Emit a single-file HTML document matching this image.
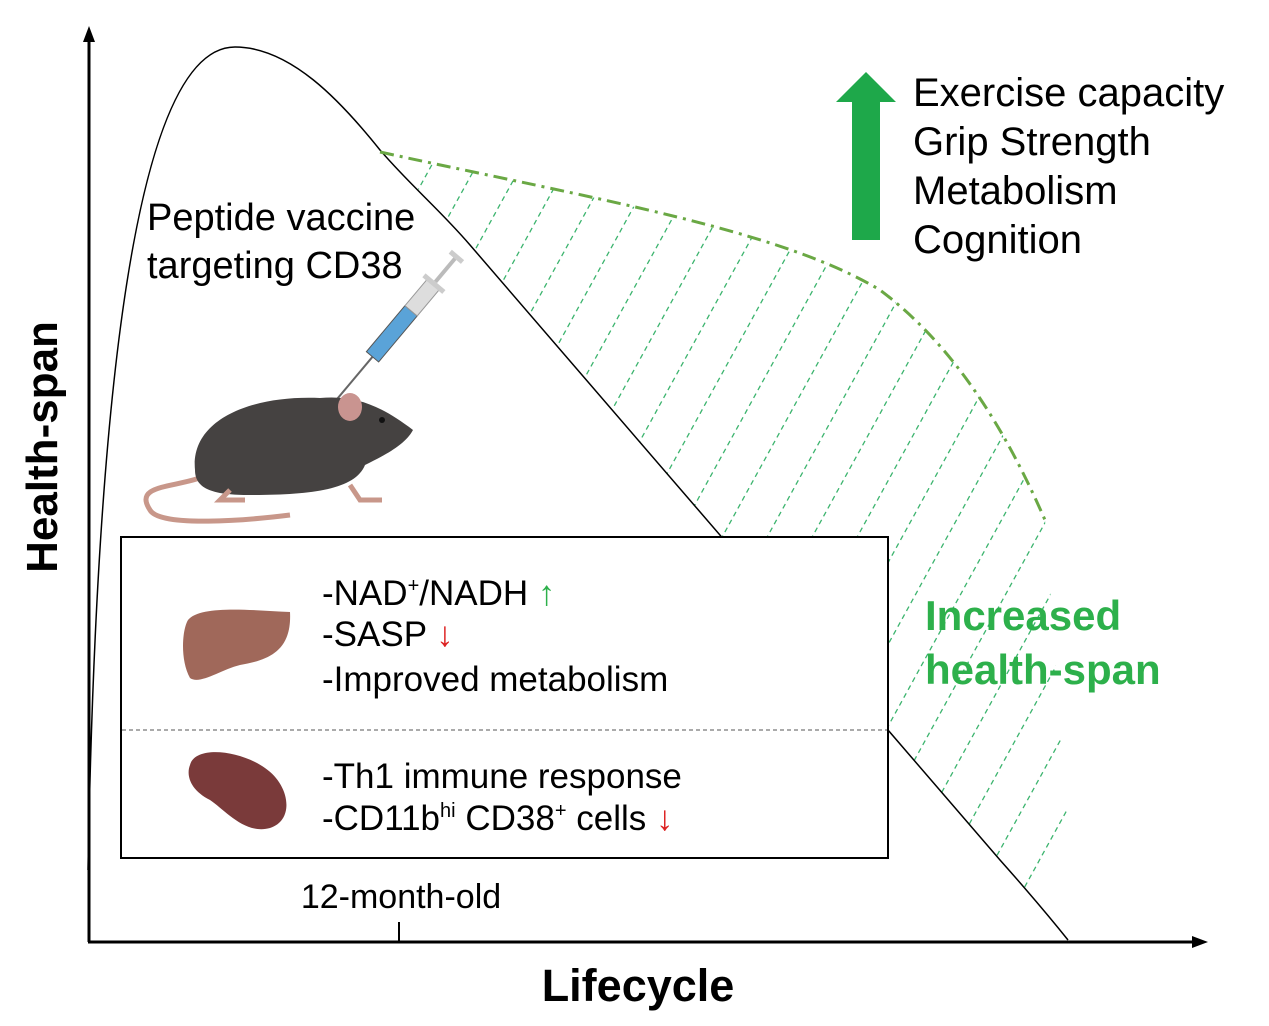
<!DOCTYPE html>
<html><head><style>body{margin:0;background:#fff}svg{display:block}text{font-family:"Liberation Sans",sans-serif}</style></head><body>
<svg width="1269" height="1026" viewBox="0 0 1269 1026">
<defs>
<clipPath id="c"><path d="M380,152 C600,200 780,230 880,290 C960,350 1010,440 1045,520 L1070,860 L1070,900 L1035,900 L1000,860 L470,245 C430,200 400,170 380,152 Z"/></clipPath>
</defs>
<!-- axes -->
<line x1="89" y1="942" x2="89" y2="38" stroke="#000" stroke-width="3"/>
<polygon points="89,26 83,42 95,42" fill="#000"/>
<line x1="88" y1="942" x2="1195" y2="942" stroke="#000" stroke-width="3"/>
<polygon points="1208,942 1192,936 1192,948" fill="#000"/>
<line x1="399" y1="922" x2="399" y2="942" stroke="#000" stroke-width="2"/>
<text x="401" y="908" font-size="34" text-anchor="middle">12-month-old</text>
<text x="638" y="1001" font-size="45" font-weight="bold" text-anchor="middle">Lifecycle</text>
<text transform="translate(57,447) rotate(-90)" font-size="44" font-weight="bold" text-anchor="middle">Health-span</text>
<!-- hatch -->
<g clip-path="url(#c)" stroke="#3cb46e" stroke-width="1.3" stroke-dasharray="5,4">
<line x1="0" y1="950" x2="550" y2="-50"/><line x1="45" y1="950" x2="595" y2="-50"/><line x1="90" y1="950" x2="640" y2="-50"/><line x1="135" y1="950" x2="685" y2="-50"/><line x1="180" y1="950" x2="730" y2="-50"/><line x1="225" y1="950" x2="775" y2="-50"/><line x1="270" y1="950" x2="820" y2="-50"/><line x1="315" y1="950" x2="865" y2="-50"/><line x1="360" y1="950" x2="910" y2="-50"/><line x1="405" y1="950" x2="955" y2="-50"/><line x1="450" y1="950" x2="1000" y2="-50"/><line x1="495" y1="950" x2="1045" y2="-50"/><line x1="540" y1="950" x2="1090" y2="-50"/><line x1="585" y1="950" x2="1135" y2="-50"/><line x1="630" y1="950" x2="1180" y2="-50"/><line x1="675" y1="950" x2="1225" y2="-50"/><line x1="720" y1="950" x2="1270" y2="-50"/><line x1="765" y1="950" x2="1315" y2="-50"/><line x1="810" y1="950" x2="1360" y2="-50"/><line x1="855" y1="950" x2="1405" y2="-50"/><line x1="900" y1="950" x2="1450" y2="-50"/><line x1="945" y1="950" x2="1495" y2="-50"/><line x1="990" y1="950" x2="1540" y2="-50"/>
</g>
<!-- curves -->
<path d="M88,870 C98,300 150,47 235,47 C290,47 340,100 380,150 C410,185 440,210 470,245 L1000,860 Q1040,905 1068,940" fill="none" stroke="#000" stroke-width="1.5"/>
<path d="M380,152 C600,200 780,230 880,290 C960,350 1010,440 1045,520" fill="none" stroke="#6aa844" stroke-width="3" stroke-dasharray="14,6,3,6"/>
<!-- arrow -->
<polygon points="866,72 896,102 880,102 880,240 852,240 852,102 836,102" fill="#1ea84a"/>
<g font-size="40"><text x="913" y="106">Exercise capacity</text><text x="913" y="155">Grip Strength</text><text x="913" y="204">Metabolism</text><text x="913" y="253">Cognition</text></g>
<g font-size="42" font-weight="bold" fill="#2db04b"><text x="925" y="630">Increased</text><text x="925" y="684">health-span</text></g>
<g font-size="38"><text x="147" y="230">Peptide vaccine</text><text x="147" y="278">targeting CD38</text></g>
<!-- syringe -->
<g transform="translate(395,330) rotate(-50)">
<line x1="-90" y1="0" x2="-35" y2="0" stroke="#666" stroke-width="2"/>
<rect x="-35" y="-8" width="60" height="16" fill="#5aa3d8" stroke="#555"/>
<rect x="25" y="-8" width="35" height="16" fill="#ddd" stroke="#999"/>
<rect x="58" y="-13" width="5" height="26" fill="#ccc"/>
<line x1="63" y1="0" x2="95" y2="0" stroke="#bbb" stroke-width="4"/>
<rect x="93" y="-8" width="5" height="16" fill="#ccc"/>
</g>
<!-- mouse -->
<path d="M215,470 C190,490 130,480 150,510 C160,528 250,520 290,515" fill="none" stroke="#c8978a" stroke-width="5"/>
<path d="M195,470 C190,420 250,395 320,398 C355,395 380,405 413,430 C405,445 385,455 365,465 C355,490 310,495 250,495 C215,495 195,490 195,470 Z" fill="#454241"/>
<ellipse cx="350" cy="407" rx="12" ry="14" fill="#c99490"/>
<circle cx="382" cy="420" r="3" fill="#111"/>
<path d="M230,490 l-10,10 h25 M350,485 l10,15 h22" stroke="#c8978a" stroke-width="5" fill="none"/>
<!-- box -->
<rect x="121" y="537" width="767" height="321" fill="#fff" stroke="#000" stroke-width="2"/>
<line x1="122" y1="730" x2="887" y2="730" stroke="#777" stroke-width="1.2" stroke-dasharray="4,3"/>
<path d="M188,620 C200,605 250,610 290,612 C292,650 270,660 240,665 C220,670 200,685 190,678 C180,660 182,630 188,620 Z" fill="#a0685a"/>
<path d="M190,765 C195,745 240,750 265,768 C290,785 295,820 270,828 C245,835 225,810 210,800 C190,790 186,775 190,765 Z" fill="#7a3a3a"/>
<g font-size="35">
<text x="322" y="605">-NAD<tspan font-size="20" dy="-13">+</tspan><tspan dy="13">/NADH </tspan><tspan fill="#2db04b">↑</tspan></text>
<text x="322" y="646">-SASP <tspan fill="#d22">↓</tspan></text>
<text x="322" y="691">-Improved metabolism</text>
<text x="322" y="788">-Th1 immune response</text>
<text x="322" y="830">-CD11b<tspan font-size="20" dy="-13">hi</tspan><tspan dy="13"> CD38</tspan><tspan font-size="20" dy="-13">+</tspan><tspan dy="13"> cells </tspan><tspan fill="#d22">↓</tspan></text>
</g>
</svg>
</body></html>
